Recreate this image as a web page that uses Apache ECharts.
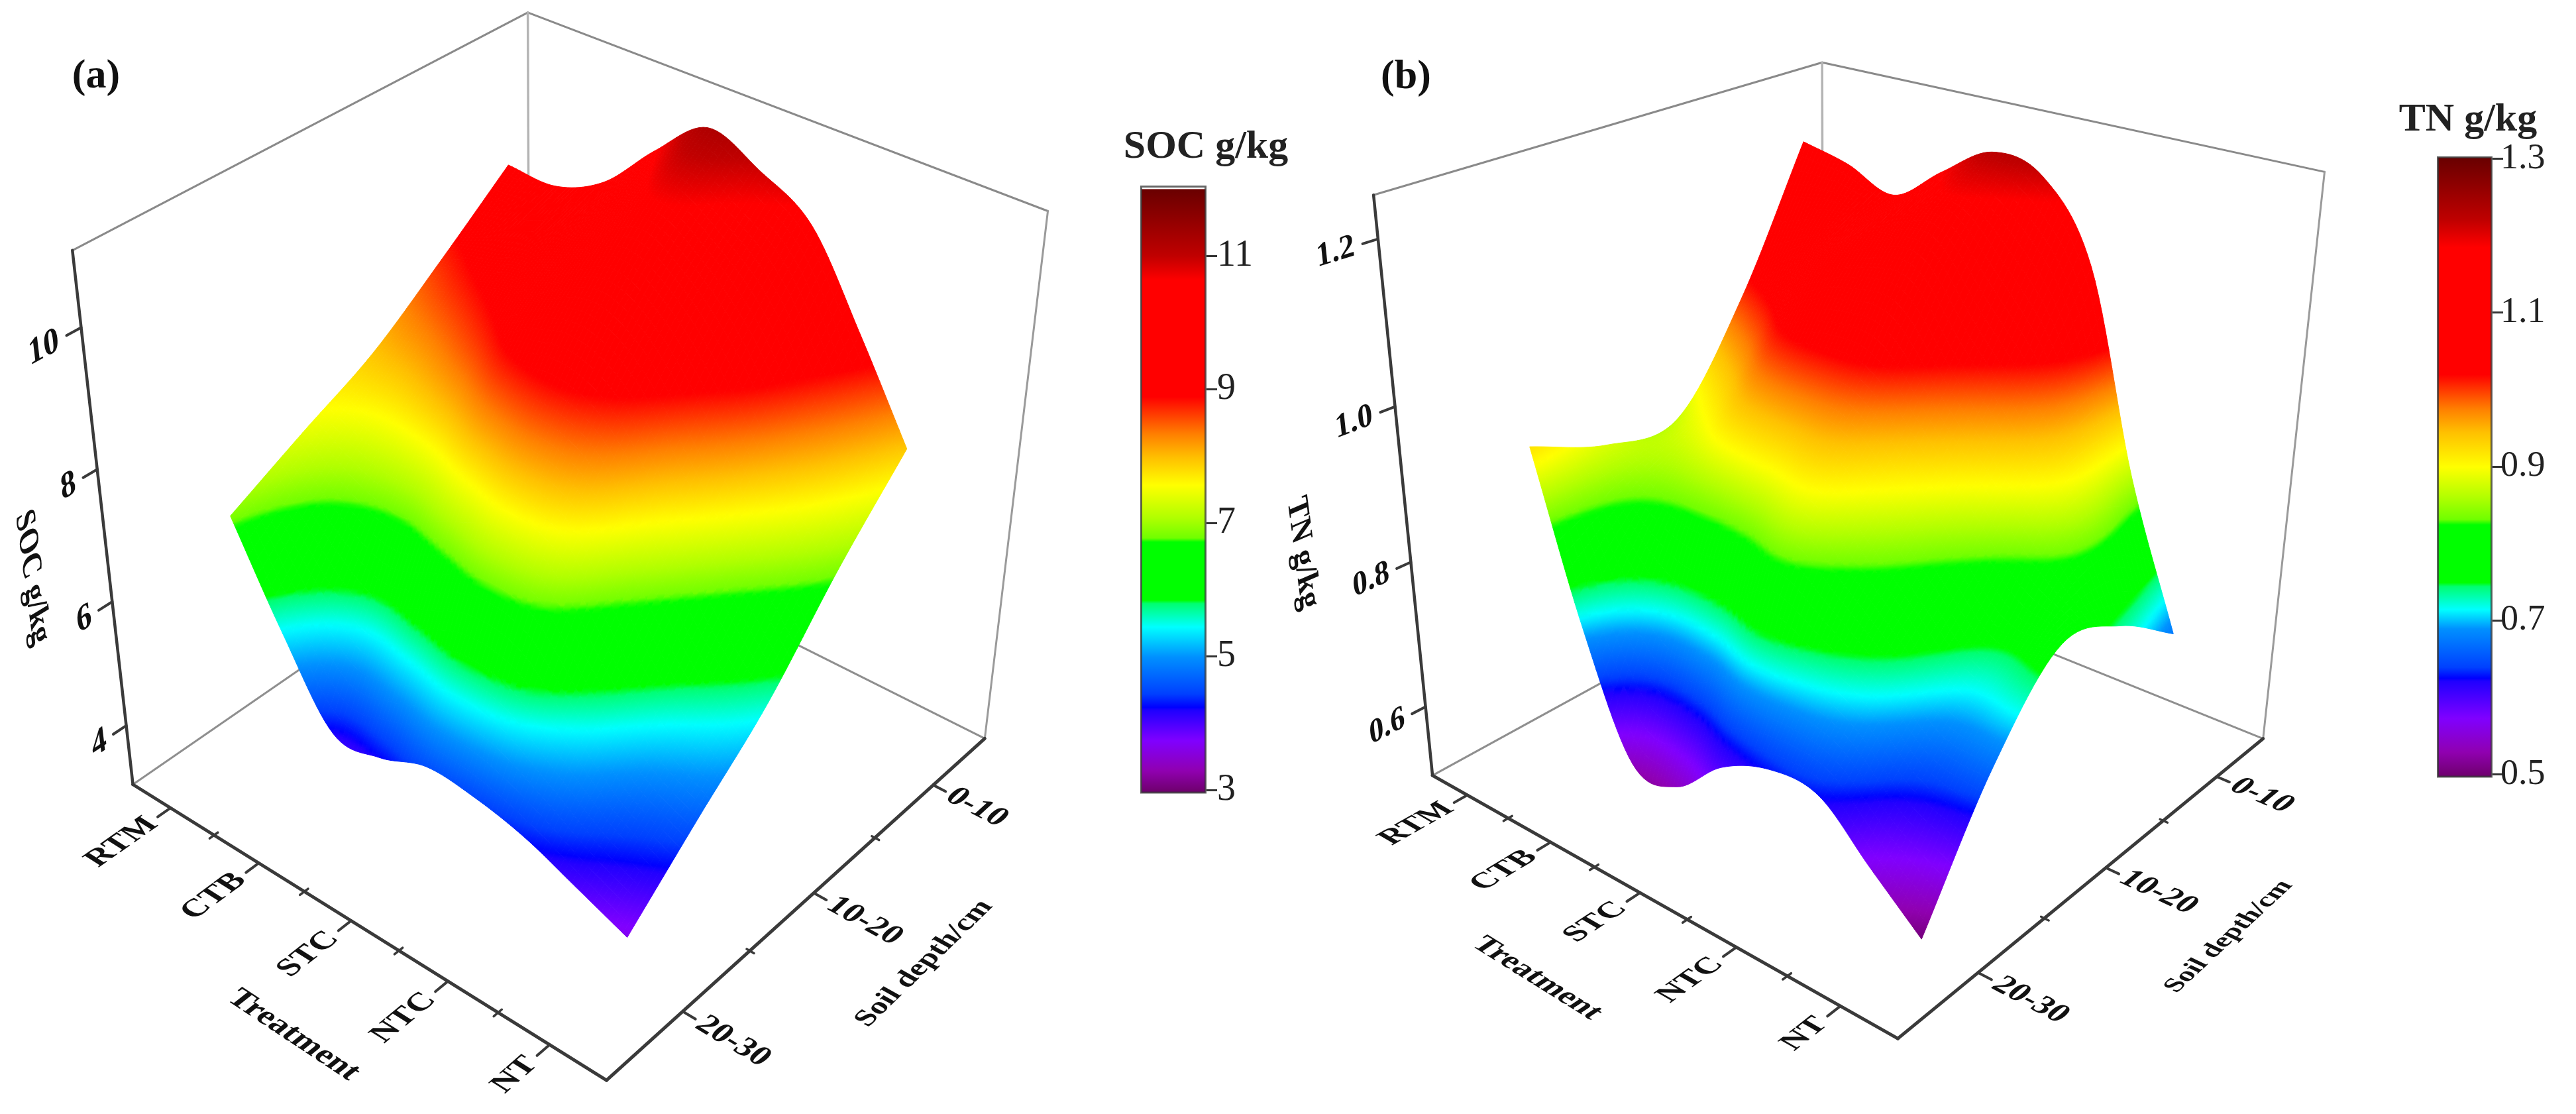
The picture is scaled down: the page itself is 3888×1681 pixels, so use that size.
<!DOCTYPE html>
<html><head><meta charset="utf-8">
<style>html,body{margin:0;padding:0;background:#fff}#c{width:3888px;height:1681px}</style>
<script src="https://cdn.jsdelivr.net/npm/echarts@6/dist/echarts.min.js"></script>
</head><body><div id="c"></div>
<script>
// ---------- data ----------
const treatments = ['RTM','CTB','STC','NTC','NT'];
const depths = ['0-10','10-20','20-30'];
const treatmentGrid = [1,1.5,2,2.5,3,3.5,4,4.5,5];
const depthGrid = [1,1.5,2,2.5,3];
// SOC g/kg on the treatment grid, one list per depth line
const socD10 = [9.54,9.52,9.87,10.6,11.2,10.9,10.45,9.25,7.93];
const socD15 = [8.72,9.05,9.4,9.9,10.4,10.0,9.2,8.0,6.85];
const socD20 = [7.95,8.1,8.45,8.95,9.1,8.7,7.6,6.5,5.6];
const socD25 = [7.41,6.85,6.6,6.9,7.2,7.0,6.0,5.1,4.65];
const socD30 = [6.85,5.4,4.2,4.25,4.55,4.5,4.32,4.0,3.67];
// TN g/kg
const tnD10 = [1.18,1.165,1.14,1.185,1.225,1.21,1.115,0.865,0.675];
const tnD15 = [1.0,1.05,1.10,1.13,1.14,1.06,0.98,0.88,0.74];
const tnD20 = [0.873,0.92,0.98,1.0,0.99,0.92,0.84,0.77,0.77];
const tnD25 = [0.88,0.83,0.81,0.82,0.85,0.80,0.745,0.68,0.669];
const tnD30 = [0.921,0.70,0.54,0.54,0.60,0.63,0.628,0.566,0.505];
const socZTicks = [4,6,8,10];
const tnZTicks = [0.6,0.8,1.0,1.2];
const socBarTicks = [3,5,7,9,11];
const tnBarTicks = [0.5,0.7,0.9,1.1,1.3];
const rampColors = ['#700070','#9000b0','#8000ff','#2000ff','#0000ff','#0040ff','#0090ff','#00ffff','#00ff70','#00ff00','#00ff00','#70ff00','#b0ff00','#ffff00','#ffc000','#ff8000','#ff0000','#ff0000','#c00000','#6a0000'];
const socRamp = [3,3.3,3.75,4.2,4.25,4.45,5,5.45,5.8,5.85,6.72,6.78,7.08,7.57,7.98,8.33,8.89,10.63,11,12];
const tnRamp = [0.5,0.53,0.574,0.622,0.626,0.64,0.69,0.715,0.745,0.75,0.825,0.832,0.86,0.9,0.945,0.975,1.02,1.185,1.22,1.3];

// ---------- view of each 3-D box: [treatment, depth, value, pixel x, pixel y] ----------
const socView = {k0:0.56,k1:5.54,d0:0.54,d1:3.54,z0:3,z1:11.03,fit:[
 [0.56,3.54,3,199,1180],[5.54,3.54,3,915,1625],[5.54,0.54,3,1491,1110],[0.56,0.54,3,798,770],
 [0.56,3.54,11.03,110,377],[5.54,0.54,11.03,1582,317],[0.56,0.54,11.03,798,22],
 [0.56,3.54,4,189,1093],[0.56,3.54,6,169,908],[0.56,3.54,8,145,707],[0.56,3.54,10,121,494],
 [1,3.54,3,258,1224],[2,3.54,3,394,1303],[3,3.54,3,534,1390],[4,3.54,3,679,1482],[5,3.54,3,832,1576],
 [5.54,1,3,1407,1186],[5.54,2,3,1223,1351],[5.54,3,3,1025,1531]]};
const tnView = {k0:0.56,k1:5.52,d0:0.54,d1:3.56,z0:0.5,z1:1.25,fit:[
 [0.56,3.56,0.5,2159,1167],[5.52,3.56,0.5,2864,1561],[5.52,0.54,0.5,3420,1109],[0.56,0.54,0.5,2751,847],
 [0.56,3.56,1.25,2072,292],[5.52,0.54,1.25,3508,259],[0.56,0.54,1.25,2751,96],
 [0.56,3.56,0.6,2153,1066],[0.56,3.56,0.8,2131,850],[0.56,3.56,1.0,2105,614],[0.56,3.56,1.2,2080,360],
 [1,3.56,0.5,2214,1202],[2,3.56,0.5,2341,1271],[3,3.56,0.5,2478,1348],[4,3.56,0.5,2622,1428],[5,3.56,0.5,2781,1518],
 [5.52,1,0.5,3344,1173],[5.52,2,0.5,3175,1314],[5.52,3,0.5,2982,1475]]};

const SERIF = '"Liberation Serif","Times New Roman",serif';

// ---------- helpers ----------
function makeProjector(v){
  const nk=k=>(k-v.k0)/(v.k1-v.k0), nd=d=>(d-v.d0)/(v.d1-v.d0), nz=z=>(z-v.z0)/(v.z1-v.z0);
  const N=11, A=Array.from({length:N},()=>new Array(N+1).fill(0));
  const add=(r,b)=>{for(let i=0;i<N;i++){for(let j=0;j<N;j++)A[i][j]+=r[i]*r[j];A[i][N]+=r[i]*b;}};
  v.fit.forEach(([k,d,z,x,y])=>{
    const X=nk(k),Y=nd(d),Z=nz(z),u=x/1000,w=y/1000;
    add([X,Y,Z,1,0,0,0,0,-u*X,-u*Y,-u*Z],u);
    add([0,0,0,0,X,Y,Z,1,-w*X,-w*Y,-w*Z],w);
  });
  for(let i=0;i<N;i++){
    let p=i;for(let r=i+1;r<N;r++)if(Math.abs(A[r][i])>Math.abs(A[p][i]))p=r;
    [A[i],A[p]]=[A[p],A[i]];
    for(let r=0;r<N;r++){if(r===i)continue;const f=A[r][i]/A[i][i];for(let c=i;c<=N;c++)A[r][c]-=f*A[i][c];}
  }
  const P=A.map((row,i)=>row[N]/row[i]);
  return (k,d,z)=>{
    const X=nk(k),Y=nd(d),Z=nz(z),W=P[8]*X+P[9]*Y+P[10]*Z+1;
    return [1000*(P[0]*X+P[1]*Y+P[2]*Z+P[3])/W,1000*(P[4]*X+P[5]*Y+P[6]*Z+P[7])/W];
  };
}
function hex(c){return [1,3,5].map(i=>parseInt(c.substr(i,2),16));}
function rampAt(stops,v){
  if(v<=stops[0])return rampColors[0];
  for(let i=1;i<stops.length;i++){
    if(v<=stops[i]){
      const t=(v-stops[i-1])/(stops[i]-stops[i-1]),a=hex(rampColors[i-1]),b=hex(rampColors[i]);
      return 'rgb('+a.map((x,j)=>Math.round(x+(b[j]-x)*t)).join(',')+')';
    }
  }
  return rampColors[rampColors.length-1];
}
function cr(p0,p1,p2,p3,t){return 0.5*(2*p1+(p2-p0)*t+(2*p0-5*p1+4*p2-p3)*t*t+(3*p1-p0-3*p2+p3)*t*t*t);}
function smoothLine(a,sub){ // surface smoothing of one grid line for drawing
  const out=[];
  for(let i=0;i<a.length-1;i++){
    const p0=i>0?a[i-1]:2*a[0]-a[1],p3=i+2<a.length?a[i+2]:2*a[a.length-1]-a[a.length-2];
    for(let s=0;s<sub;s++)out.push(cr(p0,a[i],a[i+1],p3,s/sub));
  }
  out.push(a[a.length-1]);return out;
}
function axisFine(a,sub){const o=[];for(let i=0;i<a.length-1;i++)for(let s=0;s<sub;s++)o.push(a[i]+(a[i+1]-a[i])*s/sub);o.push(a[a.length-1]);return o;}

function meshOf(rows){
  const sub=12, hz=rows.map(r=>smoothLine(r,sub)), ks=axisFine(treatmentGrid,sub), ds=axisFine(depthGrid,sub);
  const cols=ks.map((_,c)=>smoothLine(hz.map(r=>r[c]),sub)), cells=[];
  for(let i=0;i<ds.length-1;i++)for(let j=0;j<ks.length-1;j++){
    const z=[cols[j][i],cols[j+1][i],cols[j+1][i+1],cols[j][i+1]];
    cells.push([ks[j],ds[i],ks[j+1],ds[i+1],z[0],z[1],z[2],z[3],(z[0]+z[1]+z[2]+z[3])/4]);
  }
  return cells;
}
function cellPaint(pts,z,stops,mid){
  const d1x=pts[2][0]-pts[0][0],d1y=pts[2][1]-pts[0][1],d2x=pts[3][0]-pts[1][0],d2y=pts[3][1]-pts[1][1];
  const dz1=z[2]-z[0],dz2=z[3]-z[1],det=d1x*d2y-d1y*d2x;
  if(Math.abs(det)<1)return mid;
  const a=(dz1*d2y-dz2*d1y)/det,b=(d1x*dz2-d2x*dz1)/det,n=a*a+b*b;
  if(n<1e-12)return mid;
  const cx=(pts[0][0]+pts[1][0]+pts[2][0]+pts[3][0])/4,cy=(pts[0][1]+pts[1][1]+pts[2][1]+pts[3][1])/4;
  const zc=(z[0]+z[1]+z[2]+z[3])/4,zl=Math.min(z[0],z[1],z[2],z[3]),zh=Math.max(z[0],z[1],z[2],z[3]);
  if(zh-zl<1e-9)return mid;
  const colorStops=[0,0.25,0.5,0.75,1].map(o=>({offset:o,color:rampAt(stops,zl+(zh-zl)*o)}));
  return {type:'linear',global:true,x:cx+(zl-zc)*a/n,y:cy+(zl-zc)*b/n,x2:cx+(zh-zc)*a/n,y2:cy+(zh-zc)*b/n,colorStops};
}
function textFrame(proj,p,ex,dn,ds){
  const o=proj(p[0],p[1],p[2]);
  const a=proj(p[0]+ex[0],p[1]+ex[1],p[2]+ex[2]),b=proj(p[0]+dn[0],p[1]+dn[1],p[2]+dn[2]);
  let ux=a[0]-o[0],uy=a[1]-o[1],L=Math.hypot(ux,uy);ux/=L;uy/=L;
  let vx=b[0]-o[0],vy=b[1]-o[1];L=Math.hypot(vx,vy);vx=vx/L*ds;vy=vy/L*ds;
  const th=Math.atan2(-uy,ux),ct=Math.cos(th),st=Math.sin(th);
  const xr=vx*ct-vy*st,yr=vx*st+vy*ct;
  return {rotation:th,scaleX:1,scaleY:yr,skewX:Math.atan(xr/yr)};
}
function panelSeries(v,rows,stops,zTicks,zFmt,titles){
  const proj=makeProjector(v);
  const {k0,k1,d0,d1,z0,z1}=v, dz=z1-z0;
  const segBack=[[k0,d1,z1,k0,d0,z1,3,'#8a8a8a'],[k0,d0,z1,k1,d0,z1,3,'#8a8a8a'],[k1,d0,z1,k1,d0,z0,3,'#9a9a9a'],
    [k0,d0,z1,k0,d0,z0,3.5,'#b4b4b4'],[k0,d1,z0,k0,d0,z0,3,'#8f8f8f'],[k1,d0,z0,k0,d0,z0,3,'#8f8f8f']];
  const dark='#3a3a3a';
  const segFront=[[k0,d1,z1,k0,d1,z0,4.5,dark],[k0,d1,z0,k1,d1,z0,5,dark],[k1,d1,z0,k1,d0,z0,5,dark]];
  zTicks.forEach(z=>segFront.push([k0,d1,z,k0,d1+0.085,z,4,dark]));
  treatments.forEach((t,i)=>{segFront.push([i+1,d1,z0,i+1,d1+0.085,z0,4,dark]);
    if(i<treatments.length-1)segFront.push([i+1.5,d1-0.025,z0,i+1.5,d1+0.03,z0,3.5,dark]);});
  depths.forEach((t,i)=>{segFront.push([k1,i+1,z0,k1+0.12,i+1,z0,4,dark]);
    if(i<depths.length-1)segFront.push([k1-0.03,i+1.5,z0,k1+0.04,i+1.5,z0,3.5,dark]);});
  const segSeries=(list,name)=>({type:'custom',name,coordinateSystem:'cartesian2d',xAxisIndex:0,yAxisIndex:0,silent:true,clip:false,animation:false,progressive:0,
    data:list.map(s=>s.slice(0,6)),
    renderItem:(p,api)=>{const n=[0,1,2,3,4,5].map(x=>api.value(x));const a=api.coord(proj(n[0],n[1],n[2])),b=api.coord(proj(n[3],n[4],n[5]));
      return {type:'line',silent:true,shape:{x1:a[0],y1:a[1],x2:b[0],y2:b[1]},style:{stroke:list[p.dataIndex][7],lineWidth:list[p.dataIndex][6],lineCap:'round'}};}});
  const cells=meshOf(rows);
  const surface={type:'custom',name:'surface',coordinateSystem:'cartesian2d',xAxisIndex:0,yAxisIndex:0,silent:true,clip:false,animation:false,progressive:0,
    data:cells,
    renderItem:(p,api)=>{
      const k=api.value(0),d=api.value(1),k2=api.value(2),d2=api.value(3);
      const z=[api.value(4),api.value(5),api.value(6),api.value(7)];
      const pts=[proj(k,d,z[0]),proj(k2,d,z[1]),proj(k2,d2,z[2]),proj(k,d2,z[3])].map(q=>api.coord(q));
      const c=cellPaint(pts,z,stops,api.visual('color'));
      return {type:'polygon',silent:true,shape:{points:pts},style:{fill:c,stroke:c,lineWidth:1}};
    }};
  const labels=[];
  const lab=(text,pos,ex,dn,ds,size,align)=>labels.push({text,pos,ex,dn,ds,size,align});
  const e=0.05;
  treatments.forEach((t,i)=>lab(t,[i+1,d1+titles.tLabelGap,z0],[0,-e,0],[e,0,0],0.95,titles.tSize,'right'));
  depths.forEach((t,i)=>lab(t,[k1+titles.dLabelGap,i+1,z0],[e,0,0],[0,e,0],0.95,titles.dSize,'left'));
  zTicks.forEach(z=>lab(zFmt(z),[k0,d1+0.13,z],[0,-e,0],[0,0,-dz/100],1.05,titles.zSize,'right'));
  lab('Treatment',titles.treat,[e,0,0],[0,e,0],0.95,titles.treatSize,'center');
  lab('Soil depth/cm',titles.soil,[0,-e,0],[e,0,0],0.95,titles.soilSize,'center');
  lab(titles.zName,titles.zPos,[0,0,-dz/100],[0,e,0],1,titles.zNameSize,'center');
  const labelSeries={type:'custom',name:'labels',coordinateSystem:'cartesian2d',xAxisIndex:0,yAxisIndex:0,silent:true,clip:false,animation:false,progressive:0,
    data:labels.map(l=>l.pos.slice()),
    renderItem:(p,api)=>{
      const l=labels[p.dataIndex],c=api.coord(proj(l.pos[0],l.pos[1],l.pos[2])),f=textFrame(proj,l.pos,l.ex,l.dn,l.ds);
      return Object.assign({type:'text',silent:true,x:c[0],y:c[1],
        style:{text:l.text,fill:'#111',fontFamily:SERIF,fontSize:l.size,fontWeight:'bold',align:l.align,verticalAlign:'middle'}},f);
    }};
  return [segSeries(segBack,'box'),surface,segSeries(segFront,'axes'),labelSeries];
}
function denseRamp(stops){const n=360,a=stops[0],b=stops[stops.length-1],o=[];for(let i=0;i<=n;i++)o.push(rampAt(stops,a+(b-a)*i/n));return o;}
function barGradient(stops,top,bottom,cap){
  const cs=[];
  if(cap){const f=v=>(top-v)/(top-bottom);cs.push({offset:0,color:'#555'},{offset:f(top-0.012),color:'#fff'},{offset:f(top-0.045),color:'#fff'},{offset:f(top-0.06),color:'#6a0000'});}
  for(let i=stops.length-1;i>=0;i--){const o=(top-stops[i])/(top-bottom);if(o>=0&&o<=1&&(!cap||o>0.01))cs.push({offset:o,color:rampColors[i]});}
  cs.push({offset:1,color:rampColors[0]});
  return {type:'linear',x:0,y:0,x2:0,y2:1,colorStops:cs};
}
function barAxis(min,max,ticks,fmt,size,margin,idx){
  return {type:'value',gridIndex:idx,position:'right',min,max,splitLine:{show:false},axisLine:{show:false},
    axisTick:{show:true,length:16,customValues:ticks,lineStyle:{color:'#333',width:3}},
    axisLabel:{show:true,customValues:ticks,margin,color:'#222',fontFamily:SERIF,fontSize:size,formatter:fmt}};
}
function barSeries(max,stops,min,cap,idx){
  return {type:'bar',xAxisIndex:idx,yAxisIndex:idx,silent:true,animation:false,barWidth:'100%',data:[max],
    itemStyle:{color:barGradient(stops,max,min,cap),borderColor:'rgba(50,50,50,0.75)',borderWidth:3}};
}

const panelA=panelSeries(socView,[socD10,socD15,socD20,socD25,socD30],socRamp,socZTicks,z=>String(z),{
  tLabelGap:0.12,dLabelGap:0.16,tSize:49,dSize:50,zSize:52,treatSize:50,soilSize:45,zNameSize:48,
  treat:[3.5,4.23,3],soil:[6.63,2.05,3],zName:'SOC g/kg',zPos:[0.56,3.98,7.05]});
const panelB=panelSeries(tnView,[tnD10,tnD15,tnD20,tnD25,tnD30],tnRamp,tnZTicks,z=>z.toFixed(1),{
  tLabelGap:0.12,dLabelGap:0.16,tSize:48,dSize:50,zSize:48,treatSize:48,soilSize:41,zNameSize:48,
  treat:[3.15,4.28,0.5],soil:[6.68,2.07,0.5],zName:'TN g/kg',zPos:[0.56,4.15,0.87]});

const series=[...panelA,...panelB,
  barSeries(12.05,socRamp,2.96,true,1),
  barSeries(1.303,tnRamp,0.497,false,2)];

const chart=echarts.init(document.getElementById('c'),null,{renderer:'canvas'});
chart.setOption({
  backgroundColor:'#ffffff',animation:false,
  title:[
    {text:'(a)',left:140,top:111,textAlign:'center',textVerticalAlign:'middle',textStyle:{fontFamily:SERIF,fontSize:62,fontWeight:'bold',color:'#111'}},
    {text:'(b)',left:2117,top:112,textAlign:'center',textVerticalAlign:'middle',textStyle:{fontFamily:SERIF,fontSize:62,fontWeight:'bold',color:'#111'}},
    {text:'SOC g/kg',left:1815,top:217,textAlign:'center',textVerticalAlign:'middle',textStyle:{fontFamily:SERIF,fontSize:60,fontWeight:'bold',color:'#222'}},
    {text:'TN g/kg',left:3720,top:176,textAlign:'center',textVerticalAlign:'middle',textStyle:{fontFamily:SERIF,fontSize:60,fontWeight:'bold',color:'#222'}}
  ],
  grid:[{left:0,top:0,right:0,bottom:0},
    {left:1721,width:100,top:280,height:916},
    {left:3678,width:84,top:236,height:936}],
  xAxis:[{type:'value',gridIndex:0,min:0,max:3888,show:false},
    {type:'category',gridIndex:1,data:[''],show:false},
    {type:'category',gridIndex:2,data:[''],show:false}],
  yAxis:[{type:'value',gridIndex:0,min:0,max:1681,inverse:true,show:false},
    barAxis(2.96,12.05,socBarTicks,v=>String(v),56,16,1),
    barAxis(0.497,1.303,tnBarTicks,v=>v.toFixed(1),54,12,2)],
  visualMap:[
    {type:'continuous',show:false,seriesIndex:1,dimension:8,min:socRamp[0],max:socRamp[socRamp.length-1],inRange:{color:denseRamp(socRamp)}},
    {type:'continuous',show:false,seriesIndex:5,dimension:8,min:tnRamp[0],max:tnRamp[tnRamp.length-1],inRange:{color:denseRamp(tnRamp)}}],
  series
});
</script></body></html>
